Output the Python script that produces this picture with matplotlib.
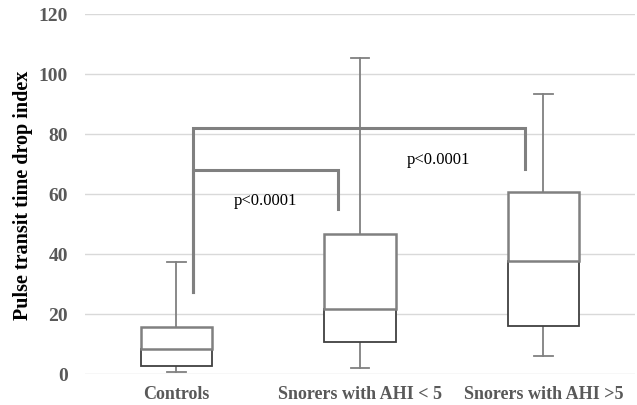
import numpy as np
import matplotlib
matplotlib.use("Agg")
import matplotlib.pyplot as plt
from matplotlib.patches import Rectangle

# box plot values
groups = ["Controls", "Snorers with AHI < 5", "Snorers with AHI >5"]
lows = [0.6, 1.9, 6.1]
q1s = [2.8, 10.6, 15.9]
medians = [8.3, 21.7, 37.8]
q3s = [15.6, 46.7, 60.6]
highs = [37.4, 105.3, 93.3]

# significance brackets: (start x, end x, bottom at start, top, bottom at end)
brackets = [(0.09, 0.88, 27.2, 68.1, 55.0),
            (0.09, 1.90, 27.2, 81.9, 68.3)]
p_labels = ["p<0.0001", "p<0.0001"]
p_pos = [(0.485, 58.0), (1.43, 71.7)]
yticks = [0, 20, 40, 60, 80, 100, 120]

GRAY = "#808080"
DARK = "#404040"
TICK = "#595959"
SERIF = ["Liberation Serif", "DejaVu Serif"]

fig = plt.figure(figsize=(6.37, 4.06), dpi=100)
ax = fig.add_axes([0.133, 0.0764, 0.864, 0.887])

ax.set_xlim(-0.5, 2.5)
ax.set_ylim(0, 120)
ax.set_yticks(yticks)
ax.set_xticks(range(len(groups)))
ax.set_xticklabels(groups)
for s in ax.spines.values():
    s.set_visible(False)
ax.tick_params(length=0, labelcolor=TICK)
ax.tick_params(axis="y", labelsize=14, pad=12)
ax.tick_params(axis="x", labelsize=13, pad=8)
for lab in ax.get_xticklabels() + ax.get_yticklabels():
    lab.set_fontweight("bold")
    lab.set_family(SERIF)
ax.grid(axis="y", color="#d9d9d9", lw=1)
ax.set_axisbelow(True)
ax.set_ylabel("Pulse transit time drop index", fontsize=14.5, fontweight="bold",
              family=SERIF, labelpad=4)

w = 0.39
cap = 0.05
for i in range(len(groups)):
    # whiskers
    ax.plot([i, i], [q3s[i], highs[i]], color=GRAY, lw=1.3, zorder=2)
    ax.plot([i, i], [lows[i], q1s[i]], color=GRAY, lw=1.3, zorder=2)
    ax.plot([i - cap, i + cap], [highs[i]] * 2, color=GRAY, lw=1.3, zorder=2)
    ax.plot([i - cap, i + cap], [lows[i]] * 2, color=GRAY, lw=1.3, zorder=2)
    # lower part of box (Q1 to median)
    ax.add_patch(Rectangle((i - w / 2, q1s[i]), w, medians[i] - q1s[i],
                           facecolor="white", edgecolor=DARK, lw=1.3, zorder=3))
    # upper part of box (median to Q3)
    ax.add_patch(Rectangle((i - w / 2, medians[i]), w, q3s[i] - medians[i],
                           facecolor="white", edgecolor=GRAY, lw=1.8, zorder=4))

for (x0, x1, y0, ytop, y1) in brackets:
    ax.plot([x0, x0, x1, x1], [y0, ytop, ytop, y1], color=GRAY, lw=2.2,
            solid_joinstyle="miter", zorder=5)

for txt, (px, py) in zip(p_labels, p_pos):
    ax.text(px, py, txt, ha="center", va="center", fontsize=12,
            family=SERIF, color="black", zorder=6)

fig.savefig("out.png", dpi=100)
